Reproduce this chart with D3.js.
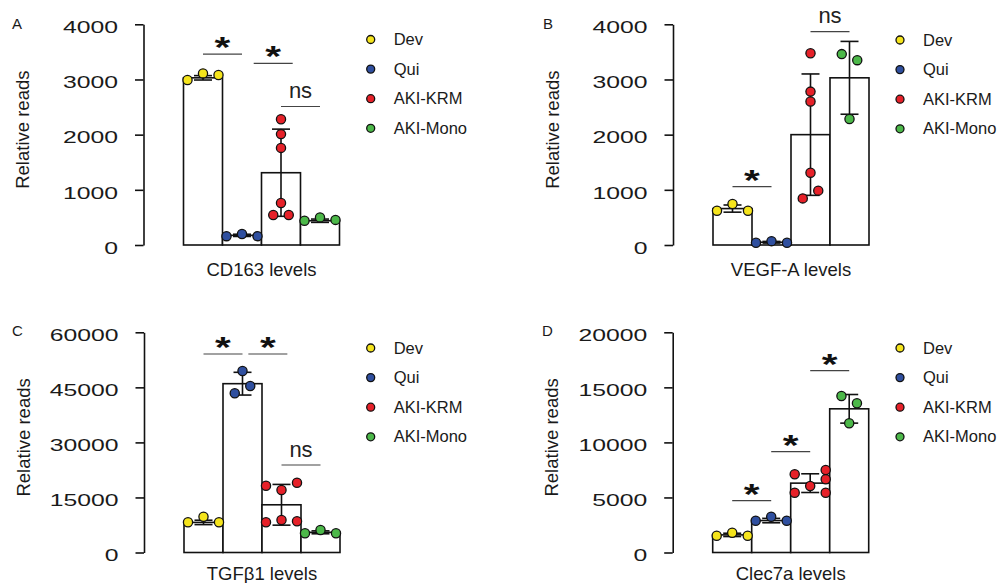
<!DOCTYPE html>
<html>
<head>
<meta charset="utf-8">
<script src="https://cdn.jsdelivr.net/npm/d3@7"></script>
<style>
  html, body { margin: 0; padding: 0; background: #fff; }
  svg { display: block; font-family: "Liberation Sans", Arial, Helvetica, sans-serif; }
</style>
</head>
<body>
<svg id="chart" width="998" height="583"></svg>
<script>
// ---------- data ----------
const groups = ["Dev", "Qui", "AKI-KRM", "AKI-Mono"];
const groupColors = ["#f5e41c", "#2f4f9f", "#e62129", "#4cb849"];
const panelLetters = ["A", "B", "C", "D"];
const geneLabels = ["CD163 levels", "VEGF-A levels", "TGF\u03b21 levels", "Clec7a levels"];
const yTitle = "Relative reads";

const cd163Ticks = [0, 1000, 2000, 3000, 4000];
const cd163Mean = [3030, 175, 1310, 440];
const cd163SD = [40, 20, 790, 30];
const cd163Dots = [[2990, 3110, 3080], [160, 200, 160], [2280, 2010, 1760, 760, 545, 545], [440, 500, 455]];
const cd163Slots = [[-1, 0, 1], [-1, 0, 1], [0, 0, 0, 0, -0.5, 0.5], [-1, 0, 1]];
const cd163Sig = [[0, 1, "*", 3460], [1.3, 2.3, "*", 3290], [2, 3, "ns", 2510]];

const vegfTicks = [0, 1000, 2000, 3000, 4000];
const vegfMean = [660, 50, 2000, 3030];
const vegfSD = [65, 15, 1100, 660];
const vegfDots = [[622, 743, 622], [40, 70, 40], [3475, 2780, 2600, 1310, 845, 985], [3460, 3350, 2285]];
const vegfSlots = [[-1, 0, 1], [-1, 0, 1], [0, 0, 0, 0, -0.5, 0.5], [-0.5, 0.5, 0]];
const vegfSig = [[0, 1, "*", 1057], [2, 3, "ns", 3866]];

const tgfTicks = [0, 15000, 30000, 45000, 60000];
const tgfMean = [8200, 46000, 13000, 5500];
const tgfSD = [600, 3100, 5550, 400];
const tgfDots = [[8230, 9755, 8230], [49460, 45370, 43380], [18200, 17030, 19020, 8230, 8860, 8500], [5230, 6130, 5230]];
const tgfSlots = [[-1, 0, 1], [0, 0.5, -0.5], [-1, 0, 1, -1, 0, 1], [-1, 0, 1]];
const tgfSig = [[0, 1, "*", 54090], [1.15, 2.15, "*", 54090], [2, 3, "ns", 23840]];

const clecTicks = [0, 5000, 10000, 15000, 20000];
const clecMean = [1600, 2900, 6300, 13050];
const clecSD = [150, 200, 850, 1300];
const clecDots = [[1526, 1798, 1526], [2888, 3252, 2888], [7102, 7493, 6649, 6040, 5431, 5431], [14215, 13550, 11735]];
const clecSlots = [[-1, 0, 1], [-1, 0, 1], [-1, 1, 1, 0, -1, 1], [-0.5, 0.5, 0]];
const clecSig = [[0, 1, "*", 4705], [1, 2, "*", 9155], [2, 3, "*", 16512]];

// ---------- layout (not data) ----------
const panels = [
  { ticks: cd163Ticks, mean: cd163Mean, sd: cd163SD, dots: cd163Dots, slots: cd163Slots, sig: cd163Sig,
    ax: 143.5, top: 24.3, bottom: 245, legX: 370.7, legY: 39.5, letterX: 12, letterY: 29, xLabY: 276 },
  { ticks: vegfTicks, mean: vegfMean, sd: vegfSD, dots: vegfDots, slots: vegfSlots, sig: vegfSig,
    ax: 673, top: 24.3, bottom: 245, legX: 900, legY: 40, letterX: 543, letterY: 29, xLabY: 276 },
  { ticks: tgfTicks, mean: tgfMean, sd: tgfSD, dots: tgfDots, slots: tgfSlots, sig: tgfSig,
    ax: 144, top: 332.3, bottom: 552.5, legX: 370.7, legY: 348, letterX: 12, letterY: 336, xLabY: 579.5 },
  { ticks: clecTicks, mean: clecMean, sd: clecSD, dots: clecDots, slots: clecSlots, sig: clecSig,
    ax: 672.7, top: 332.3, bottom: 552.5, legX: 900, legY: 348, letterX: 542, letterY: 336, xLabY: 579.5 }
];

const svg = d3.select("#chart");

panels.forEach((p, pi) => {
  const g = svg.append("g");
  const y = d3.scaleLinear()
    .domain([d3.min(p.ticks), d3.max(p.ticks)])
    .range([p.bottom, p.top]);
  const x = d3.scaleBand()
    .domain(groups)
    .range([p.ax + 40, p.ax + 40 + 156])
    .paddingInner(0).paddingOuter(0);
  const bw = x.bandwidth();
  const cx = f => x.range()[0] + (f + 0.5) * bw;

  // y axis
  const axis = d3.axisLeft(y).tickValues(p.ticks).tickSize(8.5).tickSizeOuter(0).tickFormat(d3.format("d"));
  const ag = g.append("g").attr("transform", `translate(${p.ax},0)`).call(axis);
  ag.select(".domain").attr("stroke", "#111").attr("stroke-width", 1.6);
  ag.selectAll(".tick line").attr("stroke", "#111").attr("stroke-width", 1.6);
  ag.selectAll(".tick text")
    .attr("x", -17).attr("dy", "0.5em")
    .attr("transform", "scale(1.5,1)")
    .attr("fill", "#1a1a1a")
    .style("font-size", "16.5px")
    .style("font-family", "'Liberation Sans', Arial, sans-serif");

  // y title
  g.append("text")
    .attr("transform", `translate(${p.ax - 114.5},${(p.top + p.bottom) / 2 - 5}) rotate(-90)`)
    .attr("text-anchor", "middle")
    .style("font-size", "18.5px")
    .attr("fill", "#1a1a1a")
    .text(yTitle);

  // panel letter
  g.append("text").attr("x", p.letterX).attr("y", p.letterY)
    .style("font-size", "15px").attr("fill", "#1a1a1a").text(panelLetters[pi]);

  // x label
  g.append("text")
    .attr("x", p.ax + 40 + 78).attr("y", p.xLabY)
    .attr("text-anchor", "middle")
    .style("font-size", "18.5px")
    .attr("fill", "#1a1a1a")
    .text(geneLabels[pi]);

  // bars
  g.selectAll("rect.bar").data(groups).join("rect")
    .attr("class", "bar")
    .attr("x", d => x(d))
    .attr("width", bw)
    .attr("y", (d, i) => y(p.mean[i]))
    .attr("height", (d, i) => y(0) - y(p.mean[i]))
    .attr("fill", "#fff")
    .attr("stroke", "#111")
    .attr("stroke-width", 1.6);

  // error bars
  const eg = g.append("g").attr("stroke", "#111").attr("stroke-width", 1.6).attr("fill", "none");
  groups.forEach((d, i) => {
    const c = x(d) + bw / 2;
    const yt = y(p.mean[i] + p.sd[i]), yb = y(p.mean[i] - p.sd[i]);
    eg.append("line").attr("x1", c).attr("x2", c).attr("y1", yt).attr("y2", yb);
    eg.append("line").attr("x1", c - 9).attr("x2", c + 9).attr("y1", yt).attr("y2", yt);
    eg.append("line").attr("x1", c - 9).attr("x2", c + 9).attr("y1", yb).attr("y2", yb);
  });

  // dots
  groups.forEach((d, i) => {
    const c = x(d) + bw / 2;
    g.selectAll(null).data(p.dots[i]).join("circle")
      .attr("cx", (v, j) => c + p.slots[i][j] * 15.5)
      .attr("cy", v => y(v))
      .attr("r", 4.6)
      .attr("fill", groupColors[i])
      .attr("stroke", "#111")
      .attr("stroke-width", 1.3);
  });

  // significance
  p.sig.forEach(s => {
    const x1 = cx(s[0]), x2 = cx(s[1]), ly = y(s[3]);
    g.append("line").attr("x1", x1).attr("x2", x2).attr("y1", ly).attr("y2", ly)
      .attr("stroke", "#444").attr("stroke-width", 1.2);
    const mid = (x1 + x2) / 2;
    if (s[2] === "*") {
      g.append("text")
        .attr("transform", `translate(${mid},${ly + 3}) scale(1.35,1)`)
        .attr("text-anchor", "middle")
        .style("font-size", "30px")
        .style("font-weight", "bold")
        .attr("fill", "#111")
        .text(s[2]);
    } else {
      g.append("text")
        .attr("x", mid).attr("y", ly - 8.4)
        .attr("text-anchor", "middle")
        .style("font-size", "22px")
        .attr("fill", "#222")
        .text(s[2]);
    }
  });

  // legend
  groups.forEach((d, i) => {
    const ly = p.legY + i * 29.6;
    g.append("circle").attr("cx", p.legX).attr("cy", ly).attr("r", 4)
      .attr("fill", groupColors[i]).attr("stroke", "#111").attr("stroke-width", 1.3);
    g.append("text").attr("x", p.legX + 23).attr("y", ly + 5.6)
      .style("font-size", "16.5px").attr("fill", "#1a1a1a").text(d);
  });
});
</script>
</body>
</html>
